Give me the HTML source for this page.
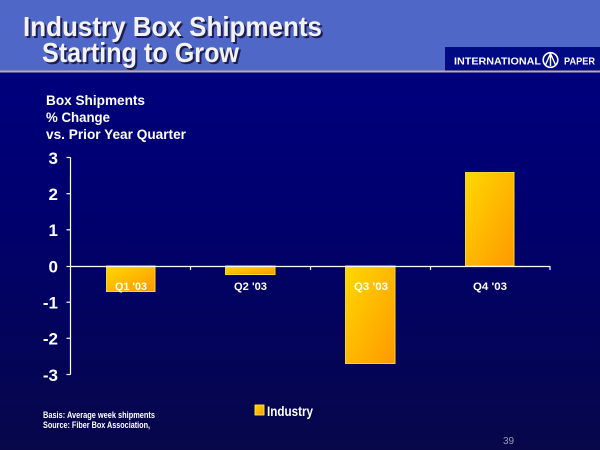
<!DOCTYPE html>
<html><head><meta charset="utf-8"><style>
html,body{margin:0;padding:0;width:600px;height:450px;overflow:hidden;background:#000060}
svg{display:block}
text{font-family:"Liberation Sans",Arial,sans-serif}
</style></head><body>
<svg width="600" height="450" viewBox="0 0 600 450" xmlns="http://www.w3.org/2000/svg">
<defs>
<linearGradient id="bg" x1="0" y1="0" x2="0" y2="1">
<stop offset="0" stop-color="#000084"/>
<stop offset="0.5" stop-color="#00006c"/>
<stop offset="1" stop-color="#07074a"/>
</linearGradient>
<linearGradient id="bar" x1="0" y1="0" x2="1" y2="1">
<stop offset="0" stop-color="#ffd800"/>
<stop offset="1" stop-color="#ff9800"/>
</linearGradient>
</defs>
<rect x="0" y="0" width="600" height="450" fill="url(#bg)"/>
<rect x="0" y="0" width="600" height="71" fill="#4f67c6"/>
<rect x="0" y="70.5" width="600" height="1.6" fill="#cfa98e"/>
<rect x="0" y="72" width="600" height="0.8" fill="#6a6aa8"/>
<!-- logo -->
<rect x="445" y="47" width="155" height="23.5" fill="#000a82"/>
<text x="454" y="64.5" font-size="10" font-weight="bold" fill="#fff" textLength="87" lengthAdjust="spacingAndGlyphs">INTERNATIONAL</text>
<circle cx="550.5" cy="60" r="7.3" fill="none" stroke="#fff" stroke-width="1.6"/>
<path d="M545.5 65 L550.5 53.5 L555.5 65 M550.5 53.5 L550.5 66" fill="none" stroke="#fff" stroke-width="1.4"/>
<text x="564" y="64.5" font-size="10" font-weight="bold" fill="#fff" textLength="31" lengthAdjust="spacingAndGlyphs">PAPER</text>
<!-- title -->
<g font-size="28" font-weight="bold">
<text x="25" y="38" fill="#1d1d55" textLength="299" lengthAdjust="spacingAndGlyphs">Industry Box Shipments</text>
<text x="23" y="36" fill="#f2f2f2" textLength="299" lengthAdjust="spacingAndGlyphs">Industry Box Shipments</text>
<text x="44" y="64" fill="#1d1d55" textLength="197" lengthAdjust="spacingAndGlyphs">Starting to Grow</text>
<text x="42" y="62" fill="#f2f2f2" textLength="197" lengthAdjust="spacingAndGlyphs">Starting to Grow</text>
</g>
<!-- subtitle -->
<g font-size="14" font-weight="bold" fill="#fff">
<text x="46" y="105" textLength="99" lengthAdjust="spacingAndGlyphs">Box Shipments</text>
<text x="46" y="122" textLength="64" lengthAdjust="spacingAndGlyphs">% Change</text>
<text x="46" y="139" textLength="140" lengthAdjust="spacingAndGlyphs">vs. Prior Year Quarter</text>
</g>
<!-- bars -->
<g stroke="#f4d830" stroke-width="1">
<rect x="106.5" y="266" width="48.5" height="25.5" fill="url(#bar)"/>
<rect x="225.5" y="266" width="49.5" height="8.5" fill="url(#bar)"/>
<rect x="345.5" y="266" width="49.5" height="97.5" fill="url(#bar)"/>
<rect x="465.5" y="172.5" width="48.5" height="93.5" fill="url(#bar)"/>
</g>
<!-- axes -->
<g stroke="#ffffff" stroke-width="1.2" fill="none">
<line x1="70.5" y1="157.5" x2="70.5" y2="374.5"/>
<line x1="70" y1="266.5" x2="550.5" y2="266.5"/>
<line x1="66.5" y1="157.5" x2="70.5" y2="157.5"/>
<line x1="66.5" y1="193.7" x2="70.5" y2="193.7"/>
<line x1="66.5" y1="229.8" x2="70.5" y2="229.8"/>
<line x1="66.5" y1="266.5" x2="70.5" y2="266.5"/>
<line x1="66.5" y1="302.2" x2="70.5" y2="302.2"/>
<line x1="66.5" y1="338.3" x2="70.5" y2="338.3"/>
<line x1="66.5" y1="374.5" x2="70.5" y2="374.5"/>
<line x1="190.5" y1="266.5" x2="190.5" y2="270"/>
<line x1="310.5" y1="266.5" x2="310.5" y2="270"/>
<line x1="430.5" y1="266.5" x2="430.5" y2="270"/>
<line x1="550" y1="266.5" x2="550" y2="270"/>
</g>
<g font-size="17" font-weight="bold" fill="#fff" text-anchor="end">
<text x="58" y="164">3</text>
<text x="58" y="200">2</text>
<text x="58" y="236">1</text>
<text x="58" y="272.5">0</text>
<text x="58" y="308.5">-1</text>
<text x="58" y="344.5">-2</text>
<text x="58" y="381">-3</text>
</g>
<g font-size="11" font-weight="bold" fill="#fff">
<text x="115" y="290" textLength="32" lengthAdjust="spacingAndGlyphs">Q1 '03</text>
<text x="234" y="290" textLength="33" lengthAdjust="spacingAndGlyphs">Q2 '03</text>
<text x="354" y="290" textLength="34" lengthAdjust="spacingAndGlyphs">Q3 '03</text>
<text x="473" y="290" textLength="34" lengthAdjust="spacingAndGlyphs">Q4 '03</text>
</g>
<!-- legend -->
<rect x="254" y="404" width="11" height="12" fill="#000" />
<rect x="255" y="405" width="9" height="10" fill="url(#bar)" stroke="#f4e060" stroke-width="1"/>
<text x="267" y="416" font-size="14" font-weight="bold" fill="#fff" textLength="46" lengthAdjust="spacingAndGlyphs">Industry</text>
<!-- footnotes -->
<g font-size="9" font-weight="bold" fill="#fff">
<text x="43" y="418" textLength="112" lengthAdjust="spacingAndGlyphs">Basis: Average week shipments</text>
<text x="43" y="428" textLength="107" lengthAdjust="spacingAndGlyphs">Source: Fiber Box Association,</text>
</g>
<text x="503" y="444" font-size="10" fill="#9a9ab8">39</text>
</svg>
</body></html>
